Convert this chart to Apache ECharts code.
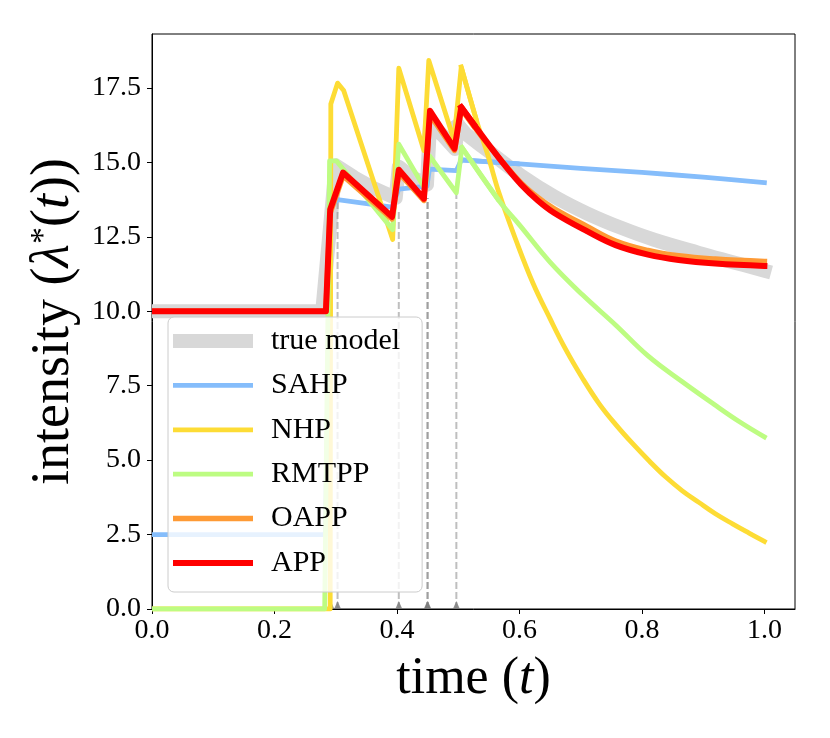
<!DOCTYPE html>
<html>
<head>
<meta charset="utf-8">
<script src="https://cdn.jsdelivr.net/npm/echarts@6/dist/echarts.min.js"></script>
<style>
  html, body { margin: 0; padding: 0; background: #fff; }
  #chart { width: 830px; height: 738px; }
</style>
</head>
<body>
<div id="chart"></div>
<script>
// tick labels
const xTicks = [0, 0.2, 0.4, 0.6, 0.8, 1.0];
const yTicks = [0, 2.5, 5, 7.5, 10, 12.5, 15, 17.5];

// event times and the height of their dashed markers
const events = [0.292, 0.303, 0.403, 0.4495, 0.4505, 0.497];
const eventTops = [13.4, 13.7, 13.4, 13.8, 13.8, 14.0];

// [t, intensity]; head = jumps up to the last event, tail = smooth decay
const trueHead = [[0, 10], [0.278, 10], [0.300, 14.9], [0.33, 14.5], [0.36, 14.15], [0.398, 13.8],
  [0.403, 14.85], [0.425, 14.5], [0.449, 14.25], [0.454, 16.3], [0.475, 15.9], [0.495, 15.45],
  [0.500, 16.25]];
const trueTail = [[0.500, 16.25], [0.51, 16.0], [0.548, 15.4], [0.603, 14.55], [0.657, 13.85],
  [0.711, 13.28], [0.766, 12.8], [0.82, 12.4], [0.893, 11.96], [0.95, 11.64], [1.0, 11.36]];
const sahpHead = [[0, 2.5], [0.283, 2.5], [0.292, 13.5], [0.303, 13.75], [0.392, 13.5], [0.403, 14.1],
  [0.449, 14.2], [0.453, 14.77], [0.497, 14.72], [0.505, 15.08]];
const sahpTail = [[0.505, 15.08], [0.6, 14.95], [0.7, 14.8], [0.8, 14.66], [0.9, 14.5], [1.0, 14.32]];
const nhpHead = [[0, 0], [0.291, 0], [0.292, 16.96], [0.303, 17.66], [0.313, 17.41], [0.393, 12.41],
  [0.403, 18.16], [0.444, 15.4], [0.452, 18.42], [0.493, 15.75], [0.505, 18.2]];
const nhpTail = [[0.505, 18.2], [0.53, 16.4], [0.548, 15.27], [0.567, 13.95], [0.595, 12.35],
  [0.622, 10.95], [0.65, 9.75], [0.676, 8.70], [0.703, 7.75], [0.730, 6.90], [0.757, 6.2],
  [0.785, 5.55], [0.812, 4.97], [0.839, 4.43], [0.866, 3.97], [0.893, 3.58], [0.92, 3.2],
  [0.948, 2.86], [0.975, 2.55], [1.0, 2.27]];
const rmtppHead = [[0, 0], [0.282, 0], [0.290, 15.05], [0.301, 15.05], [0.393, 12.74], [0.403, 15.61],
  [0.446, 14.1], [0.453, 15.22], [0.497, 13.98], [0.506, 15.5]];
const rmtppTail = [[0.506, 15.5], [0.567, 13.7], [0.6, 12.9], [0.65, 11.65], [0.703, 10.55],
  [0.757, 9.54], [0.81, 8.5], [0.866, 7.63], [0.92, 6.84], [0.96, 6.28], [1.0, 5.78]];
const oappHead = [[0, 10], [0.284, 10], [0.291, 13.3], [0.312, 14.55], [0.392, 13.1], [0.403, 14.65],
  [0.444, 13.72], [0.454, 16.6], [0.494, 15.4], [0.505, 16.8]];
const oappTail = [[0.505, 16.8], [0.528, 16.15], [0.548, 15.62], [0.575, 14.95], [0.603, 14.3],
  [0.63, 13.82], [0.657, 13.44], [0.711, 12.84], [0.757, 12.36], [0.81, 12.04], [0.86, 11.86],
  [0.92, 11.75], [1.0, 11.67]];
const appHead = [[0, 10], [0.284, 10], [0.291, 13.42], [0.312, 14.66], [0.392, 13.17], [0.403, 14.75],
  [0.444, 13.78], [0.454, 16.73], [0.494, 15.46], [0.505, 16.85]];
const appTail = [[0.505, 16.85], [0.528, 16.2], [0.548, 15.65], [0.575, 14.93], [0.603, 14.25],
  [0.63, 13.72], [0.657, 13.3], [0.711, 12.68], [0.757, 12.22], [0.81, 11.9], [0.86, 11.72],
  [0.92, 11.6], [1.0, 11.52]];

const names = ['true model', 'SAHP', 'NHP', 'RMTPP', 'OAPP', 'APP'];
const colors = ['#d8d8d8', '#85bdfb', '#fddc35', '#bdfc82', '#fe9a35', '#ff0000'];
const widths = [14, 4.8, 4.8, 4.8, 5.5, 6];
const heads = [trueHead, sahpHead, nhpHead, rmtppHead, oappHead, appHead];
const tails = [trueTail, sahpTail, nhpTail, rmtppTail, oappTail, appTail];
const FONT = 'Liberation Serif';

// head: straight segments, butt cap so it starts right on the y axis
// tail: smoothed decay, projecting cap at t = 1 like the original
function lineSeries(i, data, isTail) {
  return {
    name: names[i], type: 'line', data: data, symbol: 'none', showSymbol: false,
    smooth: isTail ? 0.4 : false,
    lineStyle: { color: colors[i], width: widths[i], cap: isTail ? 'square' : 'butt', join: 'round' },
    itemStyle: { color: colors[i] },
    silent: true
  };
}

function onTick(step) {
  return function (v) {
    return Math.abs(v / step - Math.round(v / step)) < 1e-6 ? v.toFixed(1) : '';
  };
}

function addModel(list, i) {
  // the head also takes the first tail step so the peak gets a round join
  list.push(lineSeries(i, heads[i].concat([tails[i][1]]), false));
  list.push(lineSeries(i, tails[i], true));
}

let series = [];
addModel(series, 0);
// dashed event markers
events.forEach(function (t, i) {
  series.push({
    type: 'line', data: [[t, 0], [t, eventTops[i]]], symbol: 'none', silent: true,
    lineStyle: { color: 'rgba(128,128,128,0.5)', width: 2, type: [7, 3] }
  });
});
for (let i = 1; i < names.length; i++) {
  addModel(series, i);
}
series.push({
  type: 'scatter', data: events.map(function (t) { return [t, 0]; }),
  symbol: 'triangle', symbolSize: [7, 8], symbolOffset: [0, -4], silent: true,
  itemStyle: { color: '#777777' }
});

// legend handles: flat bars whose thickness follows the line width
let legendData = names.map(function (n, i) {
  return { name: n, icon: 'path://M0,0H80V' + widths[i] + 'H0Z' };
});

let chart = echarts.init(document.getElementById('chart'), null, { renderer: 'canvas' });
chart.setOption({
  animation: false,
  backgroundColor: '#fff',
  grid: {
    left: 152, right: 35, top: 34, bottom: 129,
    show: true, borderColor: '#000', borderWidth: 1, backgroundColor: 'transparent',
    outerBoundsMode: 'none'
  },
  legend: {
    data: legendData, orient: 'vertical', left: 168, top: 317,
    padding: [9, 13, 14, 5], itemWidth: 80, itemHeight: 14, itemGap: 14.4,
    backgroundColor: 'rgba(255,255,255,0.8)', borderColor: '#cccccc', borderWidth: 1, borderRadius: 6,
    selectedMode: false,
    textStyle: { fontFamily: FONT, fontSize: 30, lineHeight: 30, color: '#000', padding: [0, 9, 0, 13] }
  },
  xAxis: {
    type: 'value', min: 0, max: 1.05, interval: 0.2,
    name: '{a|time (}{i|t}{a|)}', nameLocation: 'middle', nameGap: 44,
    nameTextStyle: {
      fontFamily: FONT, fontSize: 52, color: '#000',
      rich: { a: { fontFamily: FONT, fontSize: 52 }, i: { fontFamily: FONT, fontSize: 52, fontStyle: 'italic' } }
    },
    axisLine: { lineStyle: { color: '#000', width: 1 } },
    axisTick: { length: 5, lineStyle: { color: '#000' }, customValues: xTicks },
    axisLabel: { fontFamily: FONT, fontSize: 28, color: '#000', margin: 8, customValues: xTicks, formatter: onTick(0.2) },
    splitLine: { show: false }
  },
  yAxis: {
    type: 'value', min: 0, max: 19.31, interval: 2.5,
    name: '{a|intensity (}{i|λ}{s|*}{a|(}{i|t}{a|))}', nameLocation: 'middle', nameGap: 64, nameRotate: 90,
    nameTextStyle: {
      fontFamily: FONT, fontSize: 54, color: '#000',
      rich: {
        a: { fontFamily: FONT, fontSize: 54 },
        i: { fontFamily: FONT, fontSize: 54, fontStyle: 'italic' },
        s: { fontFamily: FONT, fontSize: 34, padding: [0, 0, 20, 0] }
      }
    },
    axisLine: { show: true, lineStyle: { color: '#000', width: 1 } },
    axisTick: { show: true, length: 5, lineStyle: { color: '#000' }, customValues: yTicks },
    axisLabel: { fontFamily: FONT, fontSize: 28, color: '#000', margin: 11, customValues: yTicks, formatter: onTick(2.5) },
    splitLine: { show: false }
  },
  series: series
});
</script>
</body>
</html>
